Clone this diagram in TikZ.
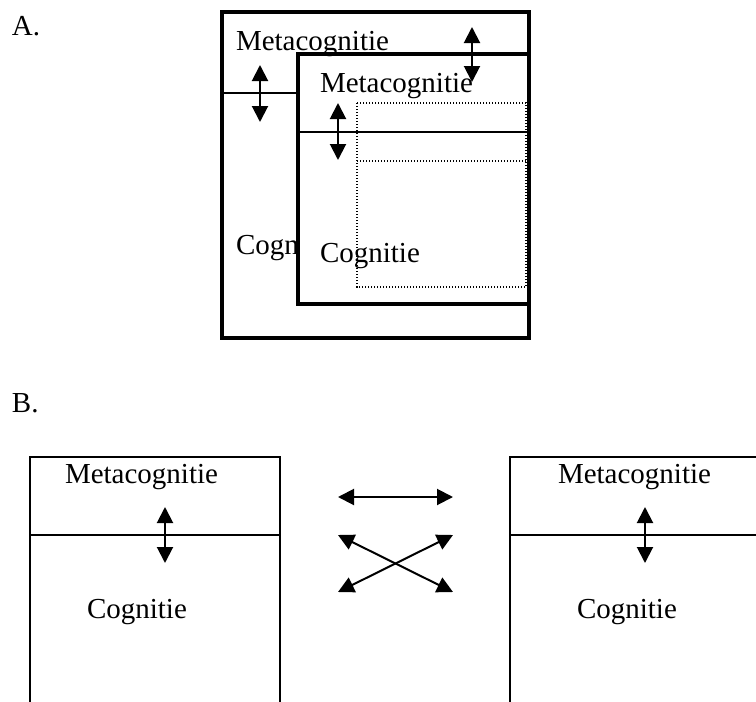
\documentclass[tikz,border=0pt]{standalone}
\usepackage{fontspec}
\setmainfont{Liberation Serif}
\usepackage{tikz}
\usetikzlibrary{arrows.meta,positioning}
\tikzstyle{dbl}  =[{Triangle[length=16pt,width=16pt]}-{Triangle[length=16pt,width=16pt]},
                    line width=2pt]
\tikzstyle{thick box}=[line width=3.5pt]
\tikzstyle{thin}=[line width=1.6pt]
\tikzstyle{dots}=[line width=1.4pt, dash pattern=on 1.4pt off 1.6pt]
\tikzstyle{lbl}=[anchor=base west, inner sep=0pt, outer sep=0pt,
                 font=\fontsize{29}{35}\selectfont]

\begin{document}
\begin{tikzpicture}[x=1pt,y=-1pt]
    \useasboundingbox (0,0) rectangle (756,702);

        % A.
        \node (labA) [lbl] at (12,35) {A.};
        \draw [thick box] (222,12) rectangle (529,338);
        \draw [thin] (222,93) -- (298,93);
        \node (cogA) [lbl] at (236,254) {Cogn};
        \draw [thick box, fill=white] (298,54) rectangle (529,304);
        \draw [thin] (298,132) -- (529,132);
        \draw [dots] (357,103) rectangle (526,287);
        \draw [dots] (357,161) -- (526,161);
        \node (metaA) [lbl] at (236,50) {Metacognitie};
        \node (metaI) [lbl] at (320,92) {Metacognitie};
        \node (cogI) [lbl] at (320,262) {Cognitie};

        \coordinate (a1) at (260,65);  \coordinate (b1) at (260,122);
        \coordinate (a2) at (472,27);  \coordinate (b2) at (472,82);
        \coordinate (a3) at (338,103); \coordinate (b3) at (338,160);
        \foreach \i in {1,2,3}
            \draw [dbl] (a\i) -- (b\i);

        % B.
        \node (labB) [lbl] at (12,412) {B.};
        \draw [thin] (30,702) -- (30,457) -- (280,457) -- (280,702);
        \draw [thin] (30,535) -- (280,535);
        \draw [thin] (510,702) -- (510,457) -- (756,457);
        \draw [thin] (510,535) -- (756,535);
        \node (metaL) [lbl] at (65,483) {Metacognitie};
        \node (cogL) [lbl] at (87,618) {Cognitie};
        \node (metaR) [lbl] at (558,483) {Metacognitie};
        \node (cogR) [lbl] at (577,618) {Cognitie};

        \coordinate (l1) at (165,507); \coordinate (l2) at (165,563);
        \coordinate (r1) at (645,507); \coordinate (r2) at (645,563);
        \coordinate (h1) at (338,497); \coordinate (h2) at (453,497);
        \coordinate (x1) at (338,535); \coordinate (x2) at (453,592);
        \coordinate (y1) at (338,592); \coordinate (y2) at (453,535);
        \foreach \i/\j in {l1/l2,r1/r2,h1/h2,x1/x2,y1/y2}
            \draw [dbl] (\i) -- (\j);

\end{tikzpicture}
\end{document}
